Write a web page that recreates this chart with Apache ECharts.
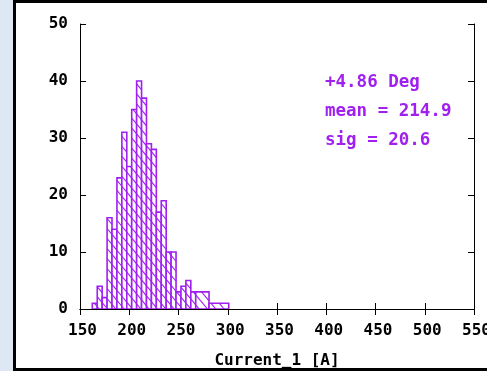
<!DOCTYPE html>
<html>
<head>
<meta charset="utf-8">
<script src="https://cdn.jsdelivr.net/npm/echarts@6/dist/echarts.min.js"></script>
<style>
  html, body { margin: 0; padding: 0; overflow: hidden; background: #fff; }
  #chart { width: 487px; height: 371px; }
</style>
</head>
<body>
<div id="chart"></div>
<script>
// histogram bins (A) and counts
const binEdges = [162.5, 167.5, 172.5, 177.5, 182.5, 187.5, 192.5, 197.5, 202.5, 207.5, 212.5, 217.5,
                  222.5, 227.5, 232.5, 237.5, 242.5, 247.5, 252.5, 257.5, 262.5, 267.5, 281, 301];
const counts = [1, 4, 2, 16, 14, 23, 31, 25, 35, 40, 37, 29, 28, 17, 19, 10, 10, 3, 4, 5, 3, 3, 1];
const notes = ['+4.86 Deg', 'mean = 214.9', 'sig = 20.6'];
const xTitle = 'Current_1 [A]';

const purple = '#a020f0';
const font = 'DejaVu Sans Mono';

const bins = counts.map((c, i) => [binEdges[i], binEdges[i + 1], c]);

// white box, purple outline, "\" hatching anchored to the screen
function renderBin(params, api) {
  const a = api.coord([api.value(0), api.value(2)]);
  const b = api.coord([api.value(1), 0]);
  const x0 = a[0], y0 = a[1], x1 = b[0], y1 = b[1];
  const s = 1.2, step = 10;
  const kids = [{
    type: 'rect',
    shape: { x: x0, y: y0, width: x1 - x0, height: y1 - y0 },
    style: { fill: '#fff', stroke: purple, lineWidth: 1.6 }
  }];
  const cMin = y0 - s * x1, cMax = y1 - s * x0;
  for (let k = Math.ceil(cMin / step); k <= Math.floor(cMax / step); k++) {
    const c = k * step;
    const xa = Math.max(x0, (y0 - c) / s);
    const xb = Math.min(x1, (y1 - c) / s);
    if (xb - xa > 0.3) {
      kids.push({
        type: 'line',
        shape: { x1: xa, y1: s * xa + c, x2: xb, y2: s * xb + c },
        style: { stroke: purple, lineWidth: 1.1 }
      });
    }
  }
  return { type: 'group', children: kids };
}

const chart = echarts.init(document.getElementById('chart'));

const labelStyle = { color: '#000', fontFamily: font, fontWeight: 'bold', fontSize: 16 };
const frameAxis = {
  axisLine: { show: true, lineStyle: { color: '#000', width: 1 } },
  axisTick: { show: true, inside: true, length: 6, lineStyle: { color: '#000' } },
  splitLine: { show: false }
};

// page frame: pale blue strip and black border on left, top, bottom
const frame = [
  { type: 'rect', shape: { x: 0, y: 0, width: 13, height: 371 }, style: { fill: '#dde8f4' } },
  { type: 'rect', shape: { x: 13, y: 0, width: 3, height: 371 }, style: { fill: '#000' } },
  { type: 'rect', shape: { x: 13, y: 0, width: 474, height: 3 }, style: { fill: '#000' } },
  { type: 'rect', shape: { x: 13, y: 368, width: 474, height: 3 }, style: { fill: '#000' } }
];

chart.setOption({
  animation: false,
  grid: { left: 80, top: 24, width: 394, height: 285, containLabel: false, outerBoundsMode: 'none' },
  xAxis: [Object.assign({
    type: 'value', min: 150, max: 550, interval: 50, position: 'bottom',
    name: xTitle, nameLocation: 'middle', nameGap: 44,
    nameTextStyle: labelStyle,
    axisLabel: Object.assign({ margin: 14, padding: [0, 0, 0, 5] }, labelStyle)
  }, frameAxis), Object.assign({
    type: 'value', min: 150, max: 550, interval: 50, position: 'top',
    axisLabel: { show: false }
  }, frameAxis)],
  yAxis: [Object.assign({
    type: 'value', min: 0, max: 50, interval: 10, position: 'left',
    axisLabel: Object.assign({ margin: 12 }, labelStyle)
  }, frameAxis), Object.assign({
    type: 'value', min: 0, max: 50, interval: 10, position: 'right',
    axisLabel: { show: false }
  }, frameAxis)],
  series: [{
    type: 'custom',
    renderItem: renderBin,
    encode: { x: [0, 1], y: 2 },
    clip: true,
    data: bins
  }],
  graphic: frame.concat(notes.map((t, i) => ({
    type: 'text',
    left: 325,
    top: 73 + i * 29,
    style: { text: t, fill: purple, font: 'bold 17.5px "' + font + '"' }
  })))
});
</script>
</body>
</html>
